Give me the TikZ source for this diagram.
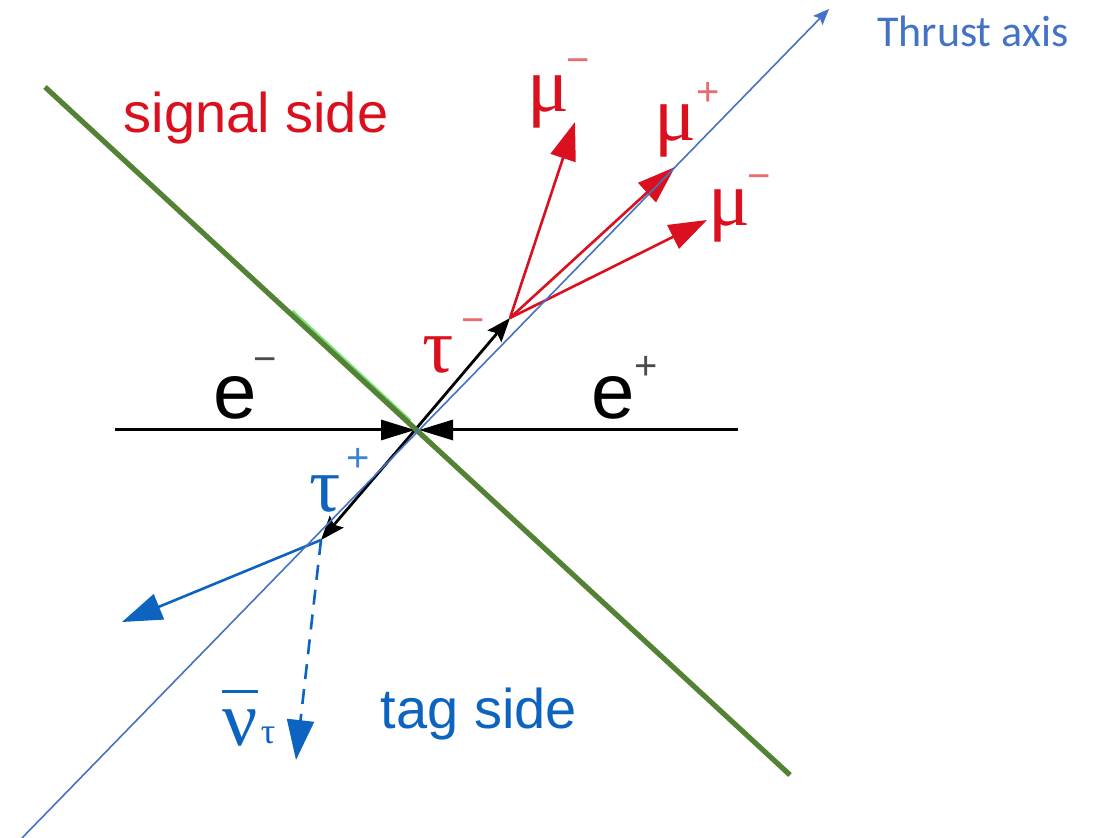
\documentclass[tikz,border=0pt]{standalone}
\usepackage{fontspec}
\setmainfont{Liberation Sans}
\newfontfamily\gkfont{Liberation Serif}
\newfontfamily\thrfont{Carlito}
\usetikzlibrary{arrows.meta}
\definecolor{sigred}{RGB}{218,16,30}
\definecolor{supred}{RGB}{232,110,110}
\definecolor{tagblue}{RGB}{12,100,192}
\definecolor{axisblue}{RGB}{68,114,196}
\definecolor{cutgreen}{RGB}{84,130,53}
\definecolor{litegreen}{RGB}{120,228,120}
\begin{document}
\begin{tikzpicture}[x=0.5pt,y=-0.5pt,
  lbl/.style={inner sep=0pt, outer sep=0pt, anchor=base},
  bigword/.style={lbl, font=\fontsize{28}{30}\selectfont},
  greek/.style={lbl, font=\gkfont\fontsize{39}{40}\selectfont},
  elabel/.style={lbl, font=\fontsize{39}{40}\selectfont},
  supsign/.style={lbl, font=\fontsize{20}{22}\selectfont},
  beam/.style={black, line width=1.5pt, -{Triangle[length=17pt,width=10pt]}},
  taupath/.style={black, line width=1.4pt, -{Stealth[length=12pt,width=9pt,inset=2pt]}},
  muon/.style={sigred, line width=1.3pt, -{Triangle[length=19pt,width=13pt]}},
  tagtrack/.style={tagblue, line width=1.3pt, -{Triangle[length=20pt,width=13.5pt]}},
  nutrack/.style={tagblue, line width=1.3pt, dash pattern=on 7.5pt off 5pt, -{Triangle[length=20pt,width=13.5pt]}},
  thrust/.style={axisblue, line width=0.8pt, -{Stealth[length=8pt,width=6.5pt,inset=1.5pt]}},
  cut/.style={cutgreen, line width=2.6pt},
]
\useasboundingbox (0,0) rectangle (1101,838);

% key points
\coordinate (O)  at (415,430);
\coordinate (eL) at (115,430);
\coordinate (eR) at (738,430);
\coordinate (eRtip) at (419,430);
\coordinate (V1) at (510,318);
\coordinate (V2) at (321,540);
\coordinate (M1) at (575,122);
\coordinate (M2) at (675,167);
\coordinate (M3) at (707,220);
\coordinate (P)  at (122,622);
\coordinate (N)  at (296,760);
\coordinate (TA) at (22,838);
\coordinate (TB) at (829,9);
\coordinate (G1) at (45,87);
\coordinate (G2) at (790,775);
\coordinate (L1) at (292.4,310.7);
\coordinate (L2) at (410.4,420.5);
\coordinate (B1) at (222,691);
\coordinate (B2) at (258,691);

% beams
\draw[beam] (eL) -- (O);
\draw[beam] (eR) -- (eRtip);

% tau pair
\draw[taupath] (O) -- (V1);
\draw[taupath] (O) -- (V2);

% signal-side muons
\draw[muon] (V1) -- (M1);
\draw[muon] (V1) -- (M2);
\draw[muon] (V1) -- (M3);

% tag-side decay
\draw[tagtrack] (V2) -- (P);
\draw[nutrack] (V2) -- (N);

% hemisphere boundary
\draw[litegreen, line width=1.2pt] (L1) -- (L2);
\draw[cut] (G1) -- (G2);

% thrust axis
\draw[thrust] (TA) -- (TB);

% labels
\node[bigword, text=sigred] (sig) at (256,133) {signal side};
\node[bigword, text=tagblue] (tag) at (479,728) {tag side};
\node[lbl, text=axisblue, font=\thrfont\fontsize{22}{24}\selectfont] (thr) at (973,47) {Thrust axis};

\node[elabel] (em) at (235,419) {e};
\node[supsign, text=black!70] (ems) at (265,373) {−};
\node[elabel] (ep) at (613,419) {e};
\node[supsign, text=black!70] (eps) at (646,380) {+};

\node[greek, text=sigred] (taum) at (438,373) {τ};
\node[supsign, text=supred] (taums) at (473,334) {−};
\node[greek, text=tagblue] (taup) at (325,512) {τ};
\node[supsign, text=tagblue!80] (taups) at (358,472) {+};

\node[greek, text=sigred] (mua) at (548,112) {μ};
\node[supsign, text=supred] (muas) at (578,74) {−};
\node[greek, text=sigred] (mub) at (675,141) {μ};
\node[supsign, text=supred] (mubs) at (708,106) {+};
\node[greek, text=sigred] (muc) at (729,226) {μ};
\node[supsign, text=supred] (mucs) at (759,190) {−};

\node[greek, text=tagblue] (nu) at (240,745) {ν};
\draw[tagblue, line width=1.5pt] (B1) -- (B2);
\node[lbl, text=tagblue, font=\gkfont\fontsize{18}{20}\selectfont] (nusub) at (268,743) {τ};
\end{tikzpicture}
\end{document}
